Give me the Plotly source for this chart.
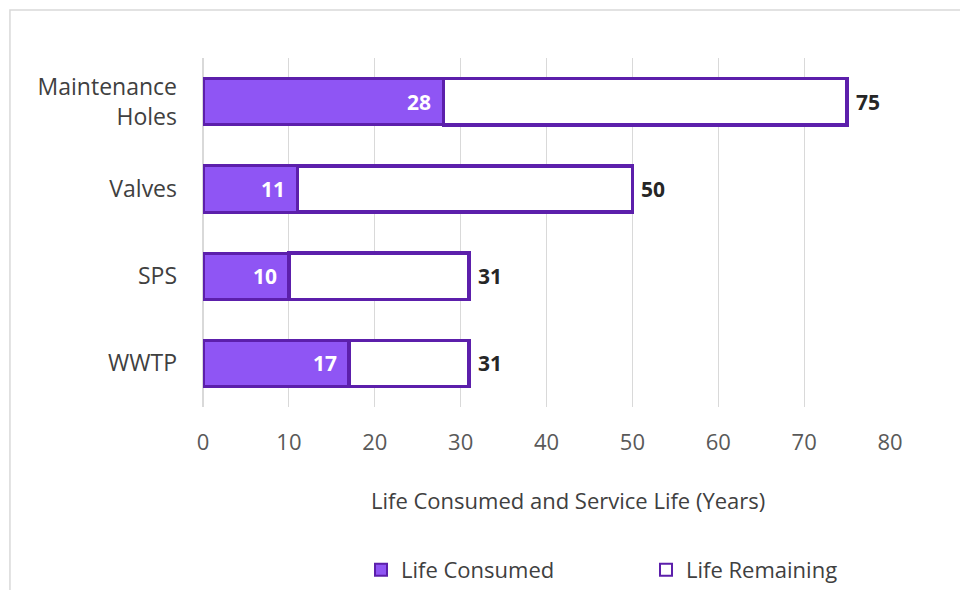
import plotly.graph_objects as go

# Asset classes, bottom to top as drawn on the y axis
categories = ["WWTP", "SPS", "Valves", "Maintenance<br>Holes"]
life_consumed = [17, 10, 11, 28]
service_life = [31, 31, 50, 75]
life_remaining = [s - c for s, c in zip(service_life, life_consumed)]
x_ticks = [0, 10, 20, 30, 40, 50, 60, 70, 80]

FONT = "Open Sans"
FILL = "#8F55F4"
EDGE = "#5C1FAB"
TEXT = "#404040"

fig = go.Figure()

fig.add_trace(go.Bar(
    y=categories, x=life_consumed, orientation="h", name="Life Consumed",
    marker=dict(color=FILL, line=dict(color=EDGE, width=3)),
    width=0.53,
))
fig.add_trace(go.Bar(
    y=categories, x=life_remaining, orientation="h", name="Life Remaining",
    marker=dict(color="white", line=dict(color=EDGE, width=3.5)),
    width=0.53,
))

# Life consumed, printed inside the end of the purple segment
consumed_labels = [
    dict(x=val, y=cat, xref="x", yref="y", text=f"<b>{val}</b>",
         showarrow=False, xanchor="right", yanchor="middle", xshift=-10,
         font=dict(family=FONT, size=21, color="white"))
    for cat, val in zip(categories, life_consumed)
]

# Service-life totals just past the end of each bar
total_labels = [
    dict(x=total, y=cat, xref="x", yref="y", text=f"<b>{total}</b>",
         showarrow=False, xanchor="left", yanchor="middle", xshift=7,
         font=dict(family=FONT, size=21, color="#262626"))
    for cat, total in zip(categories, service_life)
]

fig.update_layout(
    barmode="stack",
    width=960, height=590,
    margin=dict(l=203, r=70, t=58, b=183, autoexpand=False),
    paper_bgcolor="white", plot_bgcolor="white",
    font=dict(family=FONT, color=TEXT),
    showlegend=True,
    legend=dict(
        orientation="h", x=0.23, xanchor="left", y=-0.467, yanchor="middle",
        font=dict(family=FONT, size=22, color=TEXT),
        entrywidth=240, entrywidthmode="pixels",
        traceorder="normal", itemsizing="constant",
    ),
    xaxis=dict(
        range=[0, 80], tickvals=x_ticks, showgrid=True, gridcolor="#D9D9D9",
        gridwidth=1, zeroline=True, zerolinecolor="#D9D9D9", showline=False,
        tickfont=dict(family=FONT, size=22, color="#595959"),
        ticks="", ticklabelstandoff=20,
    ),
    yaxis=dict(
        showgrid=False, showline=False, ticks="",
        tickfont=dict(family=FONT, size=23, color=TEXT),
        ticklabelstandoff=25,
    ),
    annotations=consumed_labels + total_labels + [dict(
        text="Life Consumed and Service Life (Years)",
        xref="paper", yref="paper", x=0.531, y=-0.266,
        xanchor="center", yanchor="middle", showarrow=False,
        font=dict(family=FONT, size=22, color=TEXT),
    )],
    shapes=[dict(
        type="rect", xref="paper", yref="paper",
        x0=-0.281, x1=1.105, y0=-0.53, y1=1.1375,
        line=dict(color="#D9D9D9", width=1.5), fillcolor="rgba(0,0,0,0)",
        layer="below",
    )],
)

fig.write_html("out.html")
